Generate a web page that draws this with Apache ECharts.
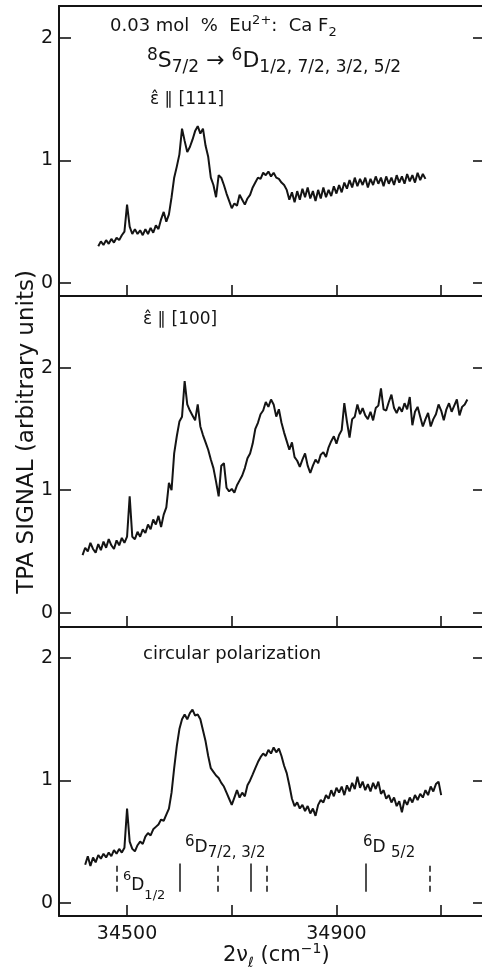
<!DOCTYPE html>
<html>
<head>
<meta charset="utf-8">
<script src="https://cdn.jsdelivr.net/npm/echarts@6/dist/echarts.min.js"></script>
<style>
html,body{margin:0;padding:0;background:#fff;}
#chart{width:482px;height:970px;}
</style>
</head>
<body>
<div id="chart"></div>
<script>
// wavenumber sampling (cm^-1) of each trace
var start111 = 34445, start100 = 34415, startCirc = 34420, stepCm = 5;

// TPA signal, e || [111]
var signal111 = [
0.30,0.34,0.31,0.35,0.32,0.36,0.33,0.37,0.35,0.39,
0.42,0.64,0.46,0.40,0.44,0.40,0.43,0.39,0.44,0.40,
0.45,0.41,0.47,0.44,0.52,0.58,0.50,0.56,0.70,0.86,
0.95,1.05,1.26,1.16,1.07,1.11,1.17,1.24,1.28,1.22,
1.26,1.12,1.03,0.86,0.80,0.70,0.88,0.86,0.80,0.73,
0.67,0.61,0.65,0.63,0.72,0.68,0.64,0.69,0.72,0.78,
0.82,0.86,0.85,0.90,0.88,0.91,0.87,0.90,0.86,0.85,
0.82,0.80,0.76,0.68,0.74,0.66,0.75,0.68,0.77,0.70,
0.78,0.69,0.75,0.67,0.76,0.69,0.78,0.70,0.76,0.71,
0.79,0.73,0.80,0.74,0.82,0.77,0.84,0.78,0.86,0.79,
0.85,0.80,0.86,0.78,0.85,0.80,0.87,0.81,0.86,0.79,
0.87,0.81,0.86,0.80,0.88,0.82,0.87,0.81,0.89,0.83,
0.88,0.82,0.90,0.84,0.89,0.85
];

// TPA signal, e || [100]
var signal100 = [
0.47,0.53,0.50,0.57,0.52,0.49,0.56,0.51,0.58,0.53,
0.60,0.55,0.52,0.59,0.55,0.61,0.57,0.62,0.95,0.62,
0.60,0.66,0.62,0.68,0.65,0.72,0.68,0.76,0.72,0.79,
0.70,0.80,0.86,1.06,1.00,1.30,1.44,1.56,1.60,1.89,
1.70,1.65,1.61,1.57,1.70,1.52,1.45,1.39,1.33,1.25,
1.18,1.07,0.95,1.20,1.22,1.02,0.99,1.01,0.98,1.04,
1.08,1.12,1.18,1.26,1.30,1.38,1.50,1.55,1.62,1.65,
1.72,1.68,1.74,1.70,1.60,1.66,1.55,1.47,1.40,1.33,
1.39,1.27,1.24,1.19,1.25,1.30,1.20,1.14,1.20,1.25,
1.22,1.29,1.31,1.27,1.35,1.40,1.44,1.38,1.45,1.49,
1.71,1.56,1.43,1.58,1.60,1.70,1.62,1.67,1.61,1.58,
1.64,1.57,1.67,1.69,1.83,1.66,1.65,1.72,1.78,1.67,
1.63,1.68,1.64,1.71,1.66,1.76,1.53,1.64,1.68,1.60,
1.52,1.58,1.63,1.52,1.58,1.62,1.70,1.65,1.57,1.66,
1.71,1.64,1.69,1.74,1.61,1.68,1.70,1.74
];

// TPA signal, circular polarization
var signalCirc = [
0.31,0.38,0.30,0.37,0.33,0.39,0.36,0.40,0.37,0.41,
0.38,0.43,0.40,0.44,0.41,0.45,0.77,0.50,0.44,0.42,
0.47,0.50,0.48,0.54,0.57,0.55,0.60,0.62,0.64,0.68,
0.67,0.72,0.77,0.90,1.10,1.28,1.42,1.50,1.54,1.50,
1.55,1.58,1.53,1.54,1.50,1.41,1.32,1.20,1.10,1.07,
1.04,1.02,0.98,0.95,0.90,0.85,0.80,0.86,0.92,0.86,
0.90,0.87,0.96,1.00,1.05,1.10,1.15,1.19,1.22,1.20,
1.25,1.22,1.27,1.23,1.26,1.20,1.12,1.06,0.96,0.85,
0.79,0.82,0.77,0.80,0.75,0.79,0.73,0.77,0.71,0.80,
0.84,0.82,0.88,0.85,0.92,0.87,0.94,0.90,0.95,0.88,
0.96,0.91,0.98,0.93,1.03,0.94,0.99,0.92,0.97,0.91,
0.98,0.93,0.99,0.89,0.92,0.85,0.88,0.82,0.86,0.79,
0.83,0.74,0.84,0.80,0.86,0.82,0.88,0.84,0.89,0.86,
0.92,0.88,0.95,0.91,0.97,0.99,0.88
];

// calculated level positions (cm^-1)
var solidLevels = [34600, 34737, 34955];
var dashedLevels = [34480, 34674, 34766, 35078];
var levelBottom = 0.09, levelTop = 0.32;

// axes
var xTicks = [34500, 34700, 34900, 35100];
var xLabels = [34500, 34900];
var yTicks = [0, 1, 2];

var xMin = 34370, xMax = 35178;
var panels = [
  {top: 6, height: 290, min: -0.106, max: 2.261, data: signal111, start: start111},
  {top: 296, height: 331, min: -0.117, max: 2.585, data: signal100, start: start100},
  {top: 627, height: 289, min: -0.109, max: 2.255, data: signalCirc, start: startCirc}
];

var FONT = 'DejaVu Sans';
var INK = '#141414';

function toPairs(arr, start) {
  return arr.map(function (v, i) { return [start + i * stepCm, v]; });
}

var grids = [], xAxes = [], yAxes = [], series = [];
panels.forEach(function (p, i) {
  grids.push({left: 59, width: 425, top: p.top, height: p.height, containLabel: false});
  xAxes.push({
    type: 'value', gridIndex: i, min: xMin, max: xMax, position: 'bottom',
    axisLine: {show: true, onZero: false, lineStyle: {color: INK, width: 2}},
    axisTick: {show: true, inside: true, length: 11, customValues: xTicks, lineStyle: {color: INK, width: 1.6}},
    axisLabel: {show: i === 2, customValues: xLabels, fontSize: 19, fontFamily: FONT, color: INK, margin: 9,
      formatter: function (v) { return String(v); }},
    splitLine: {show: false}
  });
  yAxes.push({
    type: 'value', gridIndex: i, min: p.min, max: p.max, position: 'left',
    axisLine: {show: true, onZero: false, lineStyle: {color: INK, width: 2}},
    axisTick: {show: true, inside: true, length: 12, customValues: yTicks, lineStyle: {color: INK, width: 1.6}},
    axisLabel: {show: true, customValues: yTicks, fontSize: 19, fontFamily: FONT, color: INK, margin: 6},
    splitLine: {show: false}
  });
  yAxes.push({
    type: 'value', gridIndex: i, min: p.min, max: p.max, position: 'right',
    axisLine: {show: false},
    axisTick: {show: true, inside: true, length: 9, customValues: yTicks, lineStyle: {color: INK, width: 1.6}},
    axisLabel: {show: false},
    splitLine: {show: false}
  });
  var s = {
    type: 'line', xAxisIndex: i, yAxisIndex: i * 2,
    data: toPairs(p.data, p.start),
    showSymbol: false, symbol: 'none', smooth: false,
    lineStyle: {color: INK, width: 2},
    animation: false, silent: true
  };
  if (i === 2) {
    var md = [];
    solidLevels.forEach(function (x) {
      md.push([{coord: [x, levelBottom], lineStyle: {type: 'solid', color: INK, width: 1.5}}, {coord: [x, levelTop]}]);
    });
    dashedLevels.forEach(function (x) {
      md.push([{coord: [x, levelBottom], lineStyle: {type: [6, 4], color: INK, width: 1.5}}, {coord: [x, levelTop]}]);
    });
    s.markLine = {symbol: ['none', 'none'], silent: true, animation: false, label: {show: false}, data: md};
  }
  series.push(s);
});
// top frame of the first panel
xAxes.push({
  type: 'value', gridIndex: 0, min: xMin, max: xMax, position: 'top',
  axisLine: {show: true, onZero: false, lineStyle: {color: INK, width: 2}},
  axisTick: {show: false}, axisLabel: {show: false}, splitLine: {show: false}
});

function richSet(main, small) {
  return {
    m: {fontSize: main, fontFamily: FONT, fill: INK, verticalAlign: 'middle'},
    sup: {fontSize: small, fontFamily: FONT, fill: INK, verticalAlign: 'top', lineHeight: small + 2},
    sub: {fontSize: small, fontFamily: FONT, fill: INK, verticalAlign: 'bottom', lineHeight: small + 2}
  };
}

var graphics = [
  {type: 'text', left: 110, top: 14, style: {
    text: '{m|0.03 mol  %  Eu}{sup|2+}{m|:  Ca F}{sub|2}', rich: richSet(18, 13), lineHeight: 25}},
  {type: 'text', left: 147, top: 47, style: {
    text: '{sup|8}{m|S}{sub|7/2}{m| \u2192 }{sup|6}{m|D}{sub|1/2, 7/2, 3/2, 5/2}', rich: richSet(22, 17), lineHeight: 29}},
  {type: 'text', left: 150, top: 91, style: {
    text: '\u03B5\u0302 \u2225 [111]', fontSize: 17, fontFamily: FONT, fill: INK}},
  {type: 'text', left: 143, top: 311, style: {
    text: '\u03B5\u0302 \u2225 [100]', fontSize: 17, fontFamily: FONT, fill: INK}},
  {type: 'text', left: 143, top: 645, style: {
    text: 'circular polarization', fontSize: 18, fontFamily: FONT, fill: INK}},
  {type: 'text', left: 123, top: 870, style: {
    text: '{sup|6}{m|D}{sub|1/2}', rich: richSet(17, 13), lineHeight: 32}},
  {type: 'text', left: 185, top: 835, style: {
    text: '{sup|6}{m|D}{sub|7/2, 3/2}', rich: richSet(17, 15), lineHeight: 26}},
  {type: 'text', left: 363, top: 835, style: {
    text: '{sup|6}{m|D }{sub|5/2}', rich: richSet(17, 15), lineHeight: 26}},
  {type: 'text', left: 223, top: 942, style: {
    text: '{m|2\u03BD}{sub|\u2113}{m| (cm}{sup|\u22121}{m|)}', rich: richSet(21, 14), lineHeight: 28}},
  {type: 'text', x: 27, y: 432, rotation: Math.PI / 2, style: {
    text: 'TPA SIGNAL (arbitrary units)', fontSize: 23, fontFamily: FONT, fill: INK,
    align: 'center', verticalAlign: 'middle'}}
];

var chart = echarts.init(document.getElementById('chart'), null, {renderer: 'canvas'});
chart.setOption({
  animation: false,
  backgroundColor: '#ffffff',
  grid: grids,
  xAxis: xAxes,
  yAxis: yAxes,
  series: series,
  graphic: graphics
});
</script>
</body>
</html>
